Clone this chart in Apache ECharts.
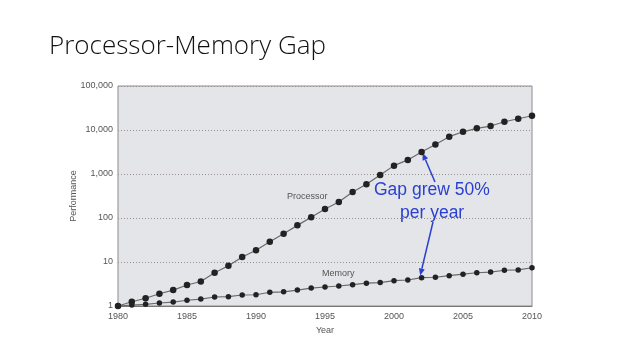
<!DOCTYPE html>
<html>
<head>
<meta charset="utf-8">
<script src="https://cdn.jsdelivr.net/npm/echarts@6/dist/echarts.min.js"></script>
<style>
  html, body { margin: 0; padding: 0; background: #fff; }
  #main { width: 630px; height: 354px; }
</style>
</head>
<body>
<div id="main"></div>
<script>
var years = [];
for (var y = 1980; y <= 2010; y++) years.push(y);

var processor = [1, 1.25, 1.5, 1.9, 2.3, 3.0, 3.6, 5.7, 8.2, 13, 18.5, 29, 44, 68, 104,
    160, 230, 390, 585, 950, 1550, 2090, 3160, 4670, 7050, 9100, 10900, 12300, 15400, 18000, 21100];
var memory = [1, 1.05, 1.09, 1.17, 1.23, 1.35, 1.44, 1.6, 1.63, 1.78, 1.8, 2.05, 2.1, 2.3, 2.56,
    2.7, 2.85, 3.05, 3.3, 3.4, 3.76, 3.9, 4.4, 4.5, 4.9, 5.3, 5.7, 5.9, 6.5, 6.6, 7.4];
var xTicks = [1980, 1985, 1990, 1995, 2000, 2005, 2010];

function pairs(vals) {
    var out = [];
    for (var i = 0; i < years.length; i++) out.push([years[i], vals[i]]);
    return out;
}

var chart = echarts.init(document.getElementById('main'));
var option = {
    animation: false,
    backgroundColor: '#fff',
    grid: {
        left: 118, top: 86, right: 98, bottom: 48,
        show: true,
        backgroundColor: '#e4e5e8',
        borderColor: '#8c8c8c',
        borderWidth: 1
    },
    xAxis: {
        type: 'value',
        min: 1980, max: 2010, interval: 5,
        name: 'Year',
        nameLocation: 'middle',
        nameGap: 20,
        nameTextStyle: { color: '#555', fontSize: 9, fontFamily: 'Liberation Sans' },
        axisLine: { show: true, lineStyle: { color: '#777' } },
        axisTick: { show: false },
        splitLine: { show: false },
        axisLabel: {
            color: '#555', fontSize: 9, fontFamily: 'Liberation Sans', margin: 6,
            formatter: function (v) { return xTicks.indexOf(v) >= 0 ? String(v) : ''; }
        }
    },
    yAxis: {
        type: 'log',
        logBase: 10,
        min: 1, max: 100000,
        name: 'Performance',
        nameLocation: 'middle',
        nameGap: 40,
        nameMoveOverlap: false,
        nameTextStyle: { color: '#555', fontSize: 9, fontFamily: 'Liberation Sans' },
        axisLine: { show: false },
        axisTick: { show: false },
        splitLine: { show: true, lineStyle: { color: '#9a8f8f', type: [1, 2], width: 1 } },
        axisLabel: {
            color: '#555', fontSize: 9, fontFamily: 'Liberation Sans', margin: 5,
            formatter: function (v) { return Math.round(v).toLocaleString('en-US'); }
        }
    },
    series: [
        {
            name: 'Processor',
            type: 'line',
            data: pairs(processor),
            symbol: 'circle',
            symbolSize: 6.5,
            itemStyle: { color: '#222' },
            lineStyle: { color: '#6a6a6a', width: 1.2 }
        },
        {
            name: 'Memory',
            type: 'line',
            data: pairs(memory),
            symbol: 'circle',
            symbolSize: 5.5,
            itemStyle: { color: '#222' },
            lineStyle: { color: '#6a6a6a', width: 1.2 }
        }
    ]
};
chart.setOption(option);

var head1 = chart.convertToPixel({ gridIndex: 0 }, [2002, processor[22]]);
var head2 = chart.convertToPixel({ gridIndex: 0 }, [2001.9, memory[22] * 1.12]);
head1 = [head1[0] + 1, head1[1] + 1];

function arrow(x1, y1, x2, y2) {
    var ang = Math.atan2(y2 - y1, x2 - x1);
    var L = 7, W = 3;
    var bx = x2 - L * Math.cos(ang), by = y2 - L * Math.sin(ang);
    var px = -Math.sin(ang) * W, py = Math.cos(ang) * W;
    return [
        { type: 'line', shape: { x1: x1, y1: y1, x2: bx, y2: by }, style: { stroke: '#2b40d0', lineWidth: 1.5 } },
        { type: 'polygon', shape: { points: [[x2, y2], [bx + px, by + py], [bx - px, by - py]] }, style: { fill: '#2b40d0' } }
    ];
}

var graphics = [
    { type: 'text', left: 49, top: 34, style: { text: 'Processor-Memory Gap', font: '300 26px "Open Sans"', fill: '#111' } },
    { type: 'text', left: 287, top: 192, style: { text: 'Processor', font: '9px "Liberation Sans"', fill: '#555' } },
    { type: 'text', left: 322, top: 269, style: { text: 'Memory', font: '9px "Liberation Sans"', fill: '#555' } },
    { type: 'text', left: 374, top: 181, style: { text: 'Gap grew 50%', font: '17.5px "Liberation Sans"', fill: '#2b40d0' } },
    { type: 'text', left: 400, top: 204, style: { text: 'per year', font: '17.5px "Liberation Sans"', fill: '#2b40d0' } }
];
graphics = graphics.concat(arrow(435, 182, head1[0], head1[1]));
graphics = graphics.concat(arrow(433, 222, head2[0], head2[1]));
chart.setOption({ graphic: graphics });
</script>
</body>
</html>
